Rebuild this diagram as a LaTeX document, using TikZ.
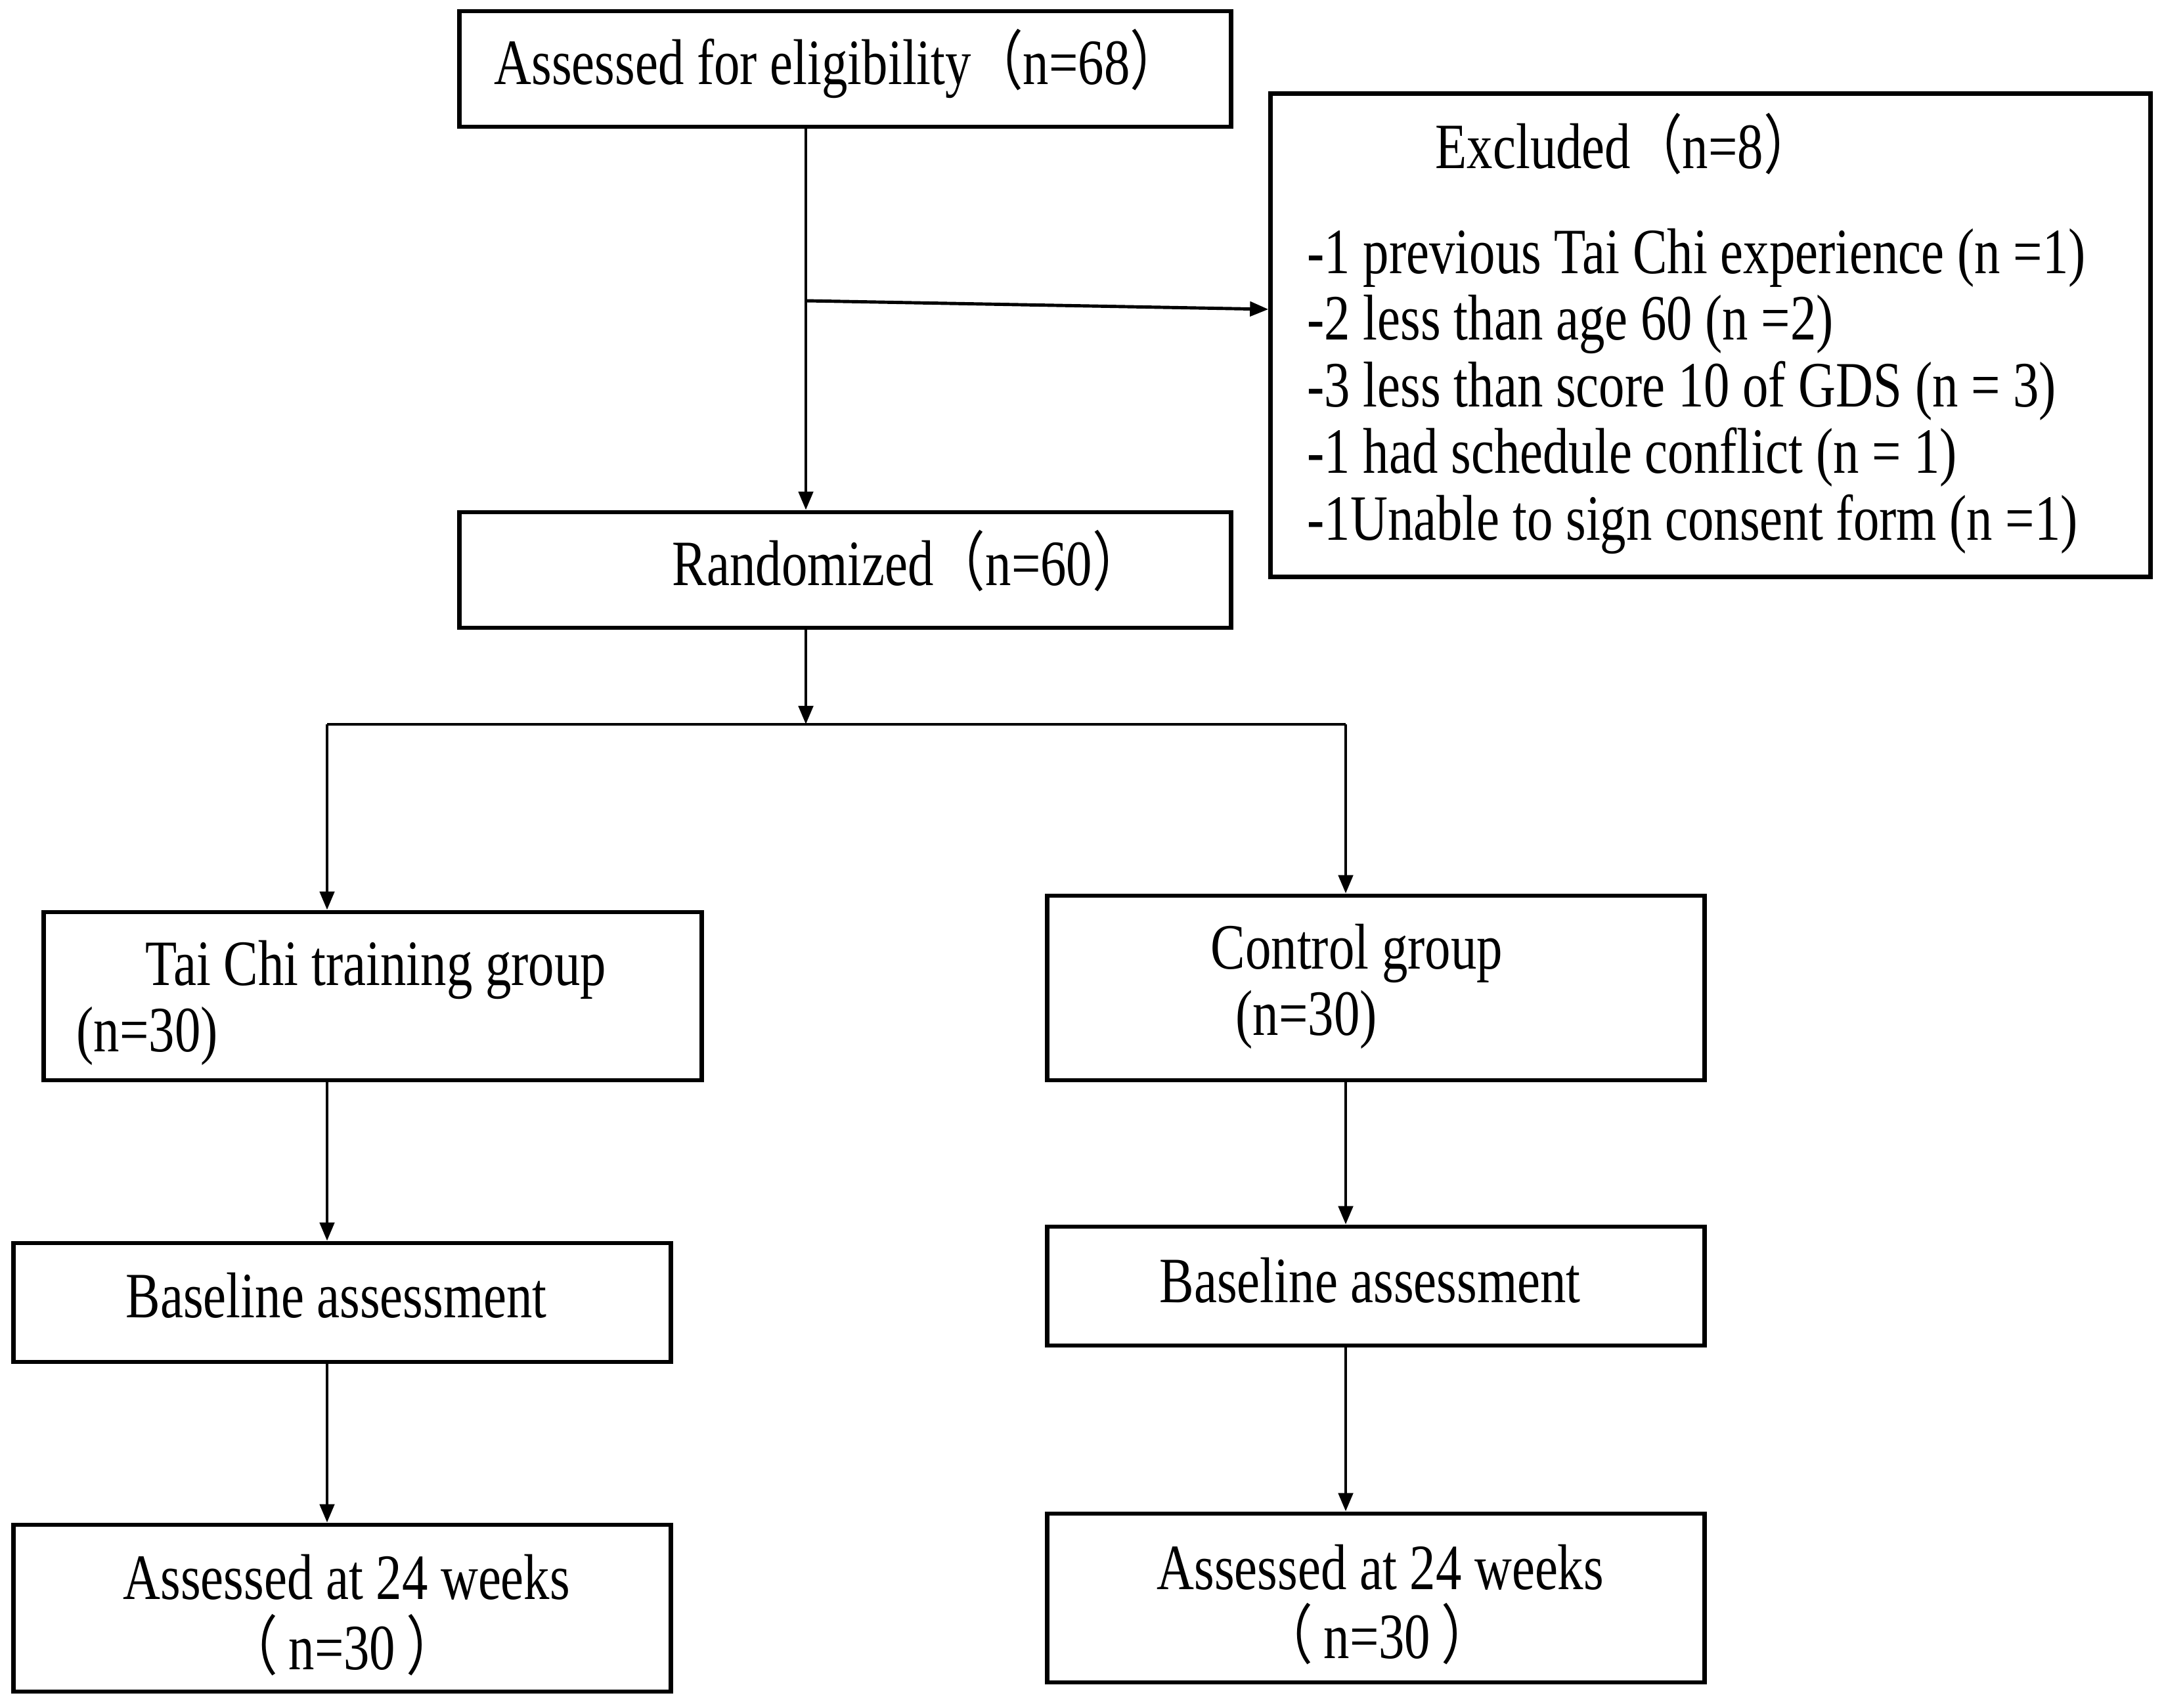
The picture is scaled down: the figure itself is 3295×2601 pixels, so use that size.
\documentclass[tikz,border=0pt]{standalone}
\usepackage{fontspec}
\setmainfont{Liberation Serif}[FakeStretch=0.8]
\newfontfamily\cjk{Noto Sans CJK SC}[FakeStretch=0.8]
\usetikzlibrary{arrows.meta}
\newcommand{\flp}{{\cjk （}}
\newcommand{\frp}{{\cjk ）}}
\begin{document}
\begin{tikzpicture}[x=0.01cm,y=-0.01cm,
  box/.style={draw, line width=1.9pt, inner sep=0pt, rectangle},
  conn/.style={line width=1.4pt},
  arr/.style={conn, -{Triangle[length=0.28cm,width=0.22cm]}},
  txt/.style={inner sep=0pt, anchor=mid west, font=\fontsize{28pt}{34pt}\selectfont}]
\useasboundingbox[fill=white] (0,0) rectangle (3295,2601);
% boxes
\node[box, minimum width=11.74cm, minimum height=1.76cm] (b1) at (1287,105) {};
\node[box, minimum width=13.39cm, minimum height=7.35cm] (excl) at (2604.5,510.5) {};
\node[box, minimum width=11.74cm, minimum height=1.76cm] (rand) at (1287,868) {};
\node[box, minimum width=10.01cm, minimum height=2.56cm] (tai) at (567.5,1517) {};
\node[box, minimum width=10.00cm, minimum height=2.81cm] (ctrl) at (2095,1504.5) {};
\node[box, minimum width=10.00cm, minimum height=1.81cm] (bl) at (521,1983.5) {};
\node[box, minimum width=10.00cm, minimum height=1.81cm] (br) at (2095,1958.5) {};
\node[box, minimum width=10.00cm, minimum height=2.54cm] (al) at (521,2449) {};
\node[box, minimum width=10.00cm, minimum height=2.57cm] (ar) at (2095,2433.5) {};
% texts
\node[txt] (t1) at (752,120) {Assessed for eligibility\flp n=68\frp};
\node[txt] (t2) at (2185,248) {Excluded\flp n=8\frp};
\node[txt] (e1) at (1990,408) {-1 previous Tai Chi experience (n =1)};
\node[txt] (e2) at (1990,509) {-2 less than age 60 (n =2)};
\node[txt] (e3) at (1990,611) {-3 less than score 10 of GDS (n = 3)};
\node[txt] (e4) at (1990,712) {-1 had schedule conflict (n = 1)};
\node[txt] (e5) at (1990,814) {-1Unable to sign consent form (n =1)};
\node[txt] (t3) at (1023,883) {Randomized\flp n=60\frp};
\node[txt] (t4) at (221,1492) {Tai Chi training group};
\node[txt] (t5) at (116,1593) {(n=30)};
\node[txt] (t6) at (1843,1467) {Control group};
\node[txt] (t7) at (1881,1568) {(n=30)};
\node[txt] (t8) at (191,1998) {Baseline assessment};
\node[txt] (t9) at (1765,1975) {Baseline assessment};
\node[txt] (t10) at (187,2427) {Assessed at 24 weeks};
\node[txt, anchor=mid] (t11) at (521,2534) {\flp\,n=30\,\frp};
\node[txt] (t12) at (1761,2412) {Assessed at 24 weeks};
\node[txt, anchor=mid] (t13) at (2097,2517) {\flp\,n=30\,\frp};
% connectors
\coordinate (vx) at (1227,0);
\coordinate (lx) at (498,0);
\coordinate (rx) at (2049,0);
\coordinate (ex0) at (1227,458);
\coordinate (ey) at (0,471);
\coordinate (split) at (1227,1103);
\draw[arr] (b1.south -| vx) -- (rand.north -| vx);
\draw[arr] (ex0) -- (excl.west |- ey);
\draw[arr] (rand.south -| vx) -- (split);
\draw[conn] (lx |- split) -- (rx |- split);
\draw[arr] (lx |- split) -- (tai.north -| lx);
\draw[arr] (rx |- split) -- (ctrl.north -| rx);
\draw[arr] (tai.south -| lx) -- (bl.north -| lx);
\draw[arr] (bl.south -| lx) -- (al.north -| lx);
\draw[arr] (ctrl.south -| rx) -- (br.north -| rx);
\draw[arr] (br.south -| rx) -- (ar.north -| rx);
\end{tikzpicture}
\end{document}
